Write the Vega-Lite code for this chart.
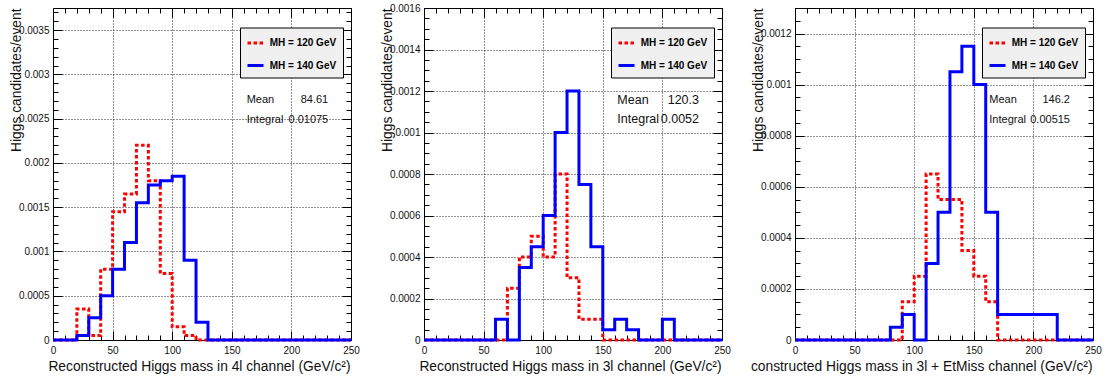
{
  "$schema": "https://vega.github.io/schema/vega-lite/v6.json",
  "autosize": {"type": "none"},
  "padding": {"left": 53, "top": 8, "right": 1053, "bottom": 371},
  "background": "#ffffff",
  "spacing": 73,
  "bounds": "flush",
  "datasets": {
    "hist": [
      {"ch":"4l","mh":"MH = 120 GeV","m":0,"v":0},{"ch":"4l","mh":"MH = 120 GeV","m":10,"v":0},{"ch":"4l","mh":"MH = 120 GeV","m":20,"v":0.00035},{"ch":"4l","mh":"MH = 120 GeV","m":30,"v":0.00005},{"ch":"4l","mh":"MH = 120 GeV","m":40,"v":0.0008},{"ch":"4l","mh":"MH = 120 GeV","m":50,"v":0.00145},{"ch":"4l","mh":"MH = 120 GeV","m":60,"v":0.00165},{"ch":"4l","mh":"MH = 120 GeV","m":70,"v":0.0022},{"ch":"4l","mh":"MH = 120 GeV","m":80,"v":0.0018},{"ch":"4l","mh":"MH = 120 GeV","m":90,"v":0.00075},{"ch":"4l","mh":"MH = 120 GeV","m":100,"v":0.00015},{"ch":"4l","mh":"MH = 120 GeV","m":110,"v":0.00005},{"ch":"4l","mh":"MH = 120 GeV","m":120,"v":0},{"ch":"4l","mh":"MH = 120 GeV","m":130,"v":0},{"ch":"4l","mh":"MH = 120 GeV","m":140,"v":0},{"ch":"4l","mh":"MH = 120 GeV","m":150,"v":0},{"ch":"4l","mh":"MH = 120 GeV","m":160,"v":0},{"ch":"4l","mh":"MH = 120 GeV","m":170,"v":0},{"ch":"4l","mh":"MH = 120 GeV","m":180,"v":0},{"ch":"4l","mh":"MH = 120 GeV","m":190,"v":0},{"ch":"4l","mh":"MH = 120 GeV","m":200,"v":0},{"ch":"4l","mh":"MH = 120 GeV","m":210,"v":0},{"ch":"4l","mh":"MH = 120 GeV","m":220,"v":0},{"ch":"4l","mh":"MH = 120 GeV","m":230,"v":0},{"ch":"4l","mh":"MH = 120 GeV","m":240,"v":0},{"ch":"4l","mh":"MH = 120 GeV","m":250,"v":0},
      {"ch":"4l","mh":"MH = 140 GeV","m":0,"v":0},{"ch":"4l","mh":"MH = 140 GeV","m":10,"v":0},{"ch":"4l","mh":"MH = 140 GeV","m":20,"v":0.00005},{"ch":"4l","mh":"MH = 140 GeV","m":30,"v":0.00025},{"ch":"4l","mh":"MH = 140 GeV","m":40,"v":0.0005},{"ch":"4l","mh":"MH = 140 GeV","m":50,"v":0.0008},{"ch":"4l","mh":"MH = 140 GeV","m":60,"v":0.0011},{"ch":"4l","mh":"MH = 140 GeV","m":70,"v":0.00155},{"ch":"4l","mh":"MH = 140 GeV","m":80,"v":0.00175},{"ch":"4l","mh":"MH = 140 GeV","m":90,"v":0.0018},{"ch":"4l","mh":"MH = 140 GeV","m":100,"v":0.00185},{"ch":"4l","mh":"MH = 140 GeV","m":110,"v":0.0009},{"ch":"4l","mh":"MH = 140 GeV","m":120,"v":0.0002},{"ch":"4l","mh":"MH = 140 GeV","m":130,"v":0},{"ch":"4l","mh":"MH = 140 GeV","m":140,"v":0},{"ch":"4l","mh":"MH = 140 GeV","m":150,"v":0},{"ch":"4l","mh":"MH = 140 GeV","m":160,"v":0},{"ch":"4l","mh":"MH = 140 GeV","m":170,"v":0},{"ch":"4l","mh":"MH = 140 GeV","m":180,"v":0},{"ch":"4l","mh":"MH = 140 GeV","m":190,"v":0},{"ch":"4l","mh":"MH = 140 GeV","m":200,"v":0},{"ch":"4l","mh":"MH = 140 GeV","m":210,"v":0},{"ch":"4l","mh":"MH = 140 GeV","m":220,"v":0},{"ch":"4l","mh":"MH = 140 GeV","m":230,"v":0},{"ch":"4l","mh":"MH = 140 GeV","m":240,"v":0},{"ch":"4l","mh":"MH = 140 GeV","m":250,"v":0},
      {"ch":"3l","mh":"MH = 120 GeV","m":0,"v":0},{"ch":"3l","mh":"MH = 120 GeV","m":10,"v":0},{"ch":"3l","mh":"MH = 120 GeV","m":20,"v":0},{"ch":"3l","mh":"MH = 120 GeV","m":30,"v":0},{"ch":"3l","mh":"MH = 120 GeV","m":40,"v":0},{"ch":"3l","mh":"MH = 120 GeV","m":50,"v":0},{"ch":"3l","mh":"MH = 120 GeV","m":60,"v":0},{"ch":"3l","mh":"MH = 120 GeV","m":70,"v":0.00025},{"ch":"3l","mh":"MH = 120 GeV","m":80,"v":0.0004},{"ch":"3l","mh":"MH = 120 GeV","m":90,"v":0.0005},{"ch":"3l","mh":"MH = 120 GeV","m":100,"v":0.0004},{"ch":"3l","mh":"MH = 120 GeV","m":110,"v":0.0008},{"ch":"3l","mh":"MH = 120 GeV","m":120,"v":0.0003},{"ch":"3l","mh":"MH = 120 GeV","m":130,"v":0.0001},{"ch":"3l","mh":"MH = 120 GeV","m":140,"v":0.0001},{"ch":"3l","mh":"MH = 120 GeV","m":150,"v":0},{"ch":"3l","mh":"MH = 120 GeV","m":160,"v":0},{"ch":"3l","mh":"MH = 120 GeV","m":170,"v":0},{"ch":"3l","mh":"MH = 120 GeV","m":180,"v":0},{"ch":"3l","mh":"MH = 120 GeV","m":190,"v":0},{"ch":"3l","mh":"MH = 120 GeV","m":200,"v":0},{"ch":"3l","mh":"MH = 120 GeV","m":210,"v":0},{"ch":"3l","mh":"MH = 120 GeV","m":220,"v":0},{"ch":"3l","mh":"MH = 120 GeV","m":230,"v":0},{"ch":"3l","mh":"MH = 120 GeV","m":240,"v":0},{"ch":"3l","mh":"MH = 120 GeV","m":250,"v":0},
      {"ch":"3l","mh":"MH = 140 GeV","m":0,"v":0},{"ch":"3l","mh":"MH = 140 GeV","m":10,"v":0},{"ch":"3l","mh":"MH = 140 GeV","m":20,"v":0},{"ch":"3l","mh":"MH = 140 GeV","m":30,"v":0},{"ch":"3l","mh":"MH = 140 GeV","m":40,"v":0},{"ch":"3l","mh":"MH = 140 GeV","m":50,"v":0},{"ch":"3l","mh":"MH = 140 GeV","m":60,"v":0.0001},{"ch":"3l","mh":"MH = 140 GeV","m":70,"v":0},{"ch":"3l","mh":"MH = 140 GeV","m":80,"v":0.00035},{"ch":"3l","mh":"MH = 140 GeV","m":90,"v":0.00045},{"ch":"3l","mh":"MH = 140 GeV","m":100,"v":0.0006},{"ch":"3l","mh":"MH = 140 GeV","m":110,"v":0.001},{"ch":"3l","mh":"MH = 140 GeV","m":120,"v":0.0012},{"ch":"3l","mh":"MH = 140 GeV","m":130,"v":0.00075},{"ch":"3l","mh":"MH = 140 GeV","m":140,"v":0.00045},{"ch":"3l","mh":"MH = 140 GeV","m":150,"v":0.00005},{"ch":"3l","mh":"MH = 140 GeV","m":160,"v":0.0001},{"ch":"3l","mh":"MH = 140 GeV","m":170,"v":0.00005},{"ch":"3l","mh":"MH = 140 GeV","m":180,"v":0},{"ch":"3l","mh":"MH = 140 GeV","m":190,"v":0},{"ch":"3l","mh":"MH = 140 GeV","m":200,"v":0.0001},{"ch":"3l","mh":"MH = 140 GeV","m":210,"v":0},{"ch":"3l","mh":"MH = 140 GeV","m":220,"v":0},{"ch":"3l","mh":"MH = 140 GeV","m":230,"v":0},{"ch":"3l","mh":"MH = 140 GeV","m":240,"v":0},{"ch":"3l","mh":"MH = 140 GeV","m":250,"v":0},
      {"ch":"3lmet","mh":"MH = 120 GeV","m":0,"v":0},{"ch":"3lmet","mh":"MH = 120 GeV","m":10,"v":0},{"ch":"3lmet","mh":"MH = 120 GeV","m":20,"v":0},{"ch":"3lmet","mh":"MH = 120 GeV","m":30,"v":0},{"ch":"3lmet","mh":"MH = 120 GeV","m":40,"v":0},{"ch":"3lmet","mh":"MH = 120 GeV","m":50,"v":0},{"ch":"3lmet","mh":"MH = 120 GeV","m":60,"v":0},{"ch":"3lmet","mh":"MH = 120 GeV","m":70,"v":0},{"ch":"3lmet","mh":"MH = 120 GeV","m":80,"v":0},{"ch":"3lmet","mh":"MH = 120 GeV","m":90,"v":0.00015},{"ch":"3lmet","mh":"MH = 120 GeV","m":100,"v":0.00025},{"ch":"3lmet","mh":"MH = 120 GeV","m":110,"v":0.00065},{"ch":"3lmet","mh":"MH = 120 GeV","m":120,"v":0.00055},{"ch":"3lmet","mh":"MH = 120 GeV","m":130,"v":0.00055},{"ch":"3lmet","mh":"MH = 120 GeV","m":140,"v":0.00035},{"ch":"3lmet","mh":"MH = 120 GeV","m":150,"v":0.00025},{"ch":"3lmet","mh":"MH = 120 GeV","m":160,"v":0.00015},{"ch":"3lmet","mh":"MH = 120 GeV","m":170,"v":0},{"ch":"3lmet","mh":"MH = 120 GeV","m":180,"v":0},{"ch":"3lmet","mh":"MH = 120 GeV","m":190,"v":0},{"ch":"3lmet","mh":"MH = 120 GeV","m":200,"v":0},{"ch":"3lmet","mh":"MH = 120 GeV","m":210,"v":0},{"ch":"3lmet","mh":"MH = 120 GeV","m":220,"v":0},{"ch":"3lmet","mh":"MH = 120 GeV","m":230,"v":0},{"ch":"3lmet","mh":"MH = 120 GeV","m":240,"v":0},{"ch":"3lmet","mh":"MH = 120 GeV","m":250,"v":0},
      {"ch":"3lmet","mh":"MH = 140 GeV","m":0,"v":0},{"ch":"3lmet","mh":"MH = 140 GeV","m":10,"v":0},{"ch":"3lmet","mh":"MH = 140 GeV","m":20,"v":0},{"ch":"3lmet","mh":"MH = 140 GeV","m":30,"v":0},{"ch":"3lmet","mh":"MH = 140 GeV","m":40,"v":0},{"ch":"3lmet","mh":"MH = 140 GeV","m":50,"v":0},{"ch":"3lmet","mh":"MH = 140 GeV","m":60,"v":0},{"ch":"3lmet","mh":"MH = 140 GeV","m":70,"v":0},{"ch":"3lmet","mh":"MH = 140 GeV","m":80,"v":0.00005},{"ch":"3lmet","mh":"MH = 140 GeV","m":90,"v":0.0001},{"ch":"3lmet","mh":"MH = 140 GeV","m":100,"v":0},{"ch":"3lmet","mh":"MH = 140 GeV","m":110,"v":0.0003},{"ch":"3lmet","mh":"MH = 140 GeV","m":120,"v":0.0005},{"ch":"3lmet","mh":"MH = 140 GeV","m":130,"v":0.00105},{"ch":"3lmet","mh":"MH = 140 GeV","m":140,"v":0.00115},{"ch":"3lmet","mh":"MH = 140 GeV","m":150,"v":0.001},{"ch":"3lmet","mh":"MH = 140 GeV","m":160,"v":0.0005},{"ch":"3lmet","mh":"MH = 140 GeV","m":170,"v":0.0001},{"ch":"3lmet","mh":"MH = 140 GeV","m":180,"v":0.0001},{"ch":"3lmet","mh":"MH = 140 GeV","m":190,"v":0.0001},{"ch":"3lmet","mh":"MH = 140 GeV","m":200,"v":0.0001},{"ch":"3lmet","mh":"MH = 140 GeV","m":210,"v":0.0001},{"ch":"3lmet","mh":"MH = 140 GeV","m":220,"v":0},{"ch":"3lmet","mh":"MH = 140 GeV","m":230,"v":0},{"ch":"3lmet","mh":"MH = 140 GeV","m":240,"v":0},{"ch":"3lmet","mh":"MH = 140 GeV","m":250,"v":0}
    ],
    "stats": [
      {"ch":"4l","labels":["Mean","Integral"],"vals":["84.61","0.01075"]},
      {"ch":"3l","labels":["Mean","Integral"],"vals":["120.3","0.0052"]},
      {"ch":"3lmet","labels":["Mean","Integral"],"vals":["146.2","0.00515"]}
    ]
  },
  "resolve": {
    "scale": {"color": "independent", "strokeDash": "independent"},
    "legend": {"color": "independent", "strokeDash": "independent"}
  },
  "hconcat": [
    {
      "width": 298, "height": 332,
      "resolve": {"axis": {"x": "independent", "y": "independent"}},
      "layer": [
        {
          "data": {"name": "hist"},
          "transform": [{"filter": "datum.ch === '4l'"}],
          "mark": {"type": "line", "interpolate": "step-after", "strokeWidth": 3, "clip": false},
          "encoding": {
            "x": {"field": "m", "type": "quantitative", "scale": {"domain": [0, 250], "nice": false, "zero": false},
              "axis": {"orient": "bottom", "values": [0,10,20,30,40,50,60,70,80,90,100,110,120,130,140,150,160,170,180,190,200,210,220,230,240,250],
                "labelExpr": "datum.value % 50 === 0 ? datum.label : ''",
                "tickSize": {"condition": {"test": "datum.value % 50 === 0", "value": -9}, "value": -5},
                "labelPadding": 14.5, "grid": true,
                "gridOpacity": {"condition": {"test": "datum.value % 50 === 0", "value": 0.85}, "value": 0},
                "title": "Reconstructed Higgs mass in 4l channel (GeV/c²)", "titleX": 297, "titleY": 30, "titleAlign": "right", "titleBaseline": "alphabetic"}},
            "y": {"field": "v", "type": "quantitative", "scale": {"domain": [0, 0.00375], "nice": false},
              "axis": {"orient": "left", "values": [0,0.0001,0.0002,0.0003,0.0004,0.0005,0.0006,0.0007,0.0008,0.0009,0.001,0.0011,0.0012,0.0013,0.0014,0.0015,0.0016,0.0017,0.0018,0.0019,0.002,0.0021,0.0022,0.0023,0.0024,0.0025,0.0026,0.0027,0.0028,0.0029,0.003,0.0031,0.0032,0.0033,0.0034,0.0035,0.0036,0.0037],
                "labelExpr": "abs(datum.value/0.0005 - round(datum.value/0.0005)) < 0.000001 ? format(datum.value, '~g') : ''",
                "tickSize": {"condition": {"test": "abs(datum.value/0.0005 - round(datum.value/0.0005)) < 0.000001", "value": -9}, "value": -5},
                "labelPadding": 13, "grid": true,
                "gridOpacity": {"condition": {"test": "abs(datum.value/0.0005 - round(datum.value/0.0005)) < 0.000001", "value": 0.85}, "value": 0},
                "title": "Higgs candidates/event", "titleX": -37, "titleY": 0, "titleAngle": 270, "titleAlign": "right", "titleBaseline": "middle"}},
            "color": {"field": "mh", "type": "nominal", "scale": {"domain": ["MH = 120 GeV", "MH = 140 GeV"], "range": ["#ff0000", "#0000ff"]}, "legend": {"title": null}},
            "strokeDash": {"field": "mh", "type": "nominal", "scale": {"domain": ["MH = 120 GeV", "MH = 140 GeV"], "range": [[3.5, 2.5], [1, 0]]}, "legend": {"title": null}}
          }
        },
        {
          "data": {"name": "stats"},
          "transform": [{"filter": "datum.ch === '4l'"}],
          "mark": {"type": "text", "align": "left", "baseline": "alphabetic", "font": "Liberation Sans", "fontSize": 11, "lineHeight": 19.5, "color": "#111"},
          "encoding": {
            "x": {"datum": 162.5, "type": "quantitative", "scale": {"domain": [0, 250], "nice": false, "zero": false},
              "axis": {"orient": "top", "values": [0,10,20,30,40,50,60,70,80,90,100,110,120,130,140,150,160,170,180,190,200,210,220,230,240,250], "labels": false, "grid": false, "title": null,
                "tickSize": {"condition": {"test": "datum.value % 50 === 0", "value": -9}, "value": -5}}},
            "y": {"datum": 0.002674, "type": "quantitative", "scale": {"domain": [0, 0.00375], "nice": false},
              "axis": {"orient": "right", "values": [0,0.0001,0.0002,0.0003,0.0004,0.0005,0.0006,0.0007,0.0008,0.0009,0.001,0.0011,0.0012,0.0013,0.0014,0.0015,0.0016,0.0017,0.0018,0.0019,0.002,0.0021,0.0022,0.0023,0.0024,0.0025,0.0026,0.0027,0.0028,0.0029,0.003,0.0031,0.0032,0.0033,0.0034,0.0035,0.0036,0.0037], "labels": false, "grid": false, "title": null,
                "tickSize": {"condition": {"test": "abs(datum.value/0.0005 - round(datum.value/0.0005)) < 0.000001", "value": -9}, "value": -5}}},
            "text": {"field": "labels", "type": "nominal"}
          }
        },
        {
          "data": {"name": "stats"},
          "transform": [{"filter": "datum.ch === '4l'"}],
          "mark": {"type": "text", "align": "right", "baseline": "alphabetic", "font": "Liberation Sans", "fontSize": 11, "lineHeight": 19.5, "color": "#111"},
          "encoding": {
            "x": {"datum": 230.9, "type": "quantitative", "scale": {"domain": [0, 250], "nice": false, "zero": false}, "axis": null},
            "y": {"datum": 0.002674, "type": "quantitative", "scale": {"domain": [0, 0.00375], "nice": false}, "axis": null},
            "text": {"field": "vals", "type": "nominal"}
          }
        }
      ]
    },
    {
      "width": 298, "height": 332,
      "resolve": {"axis": {"x": "independent", "y": "independent"}},
      "layer": [
        {
          "data": {"name": "hist"},
          "transform": [{"filter": "datum.ch === '3l'"}],
          "mark": {"type": "line", "interpolate": "step-after", "strokeWidth": 3, "clip": false},
          "encoding": {
            "x": {"field": "m", "type": "quantitative", "scale": {"domain": [0, 250], "nice": false, "zero": false},
              "axis": {"orient": "bottom", "values": [0,10,20,30,40,50,60,70,80,90,100,110,120,130,140,150,160,170,180,190,200,210,220,230,240,250],
                "labelExpr": "datum.value % 50 === 0 ? datum.label : ''",
                "tickSize": {"condition": {"test": "datum.value % 50 === 0", "value": -9}, "value": -5},
                "labelPadding": 14.5, "grid": true,
                "gridOpacity": {"condition": {"test": "datum.value % 50 === 0", "value": 0.85}, "value": 0},
                "title": "Reconstructed Higgs mass in 3l channel (GeV/c²)", "titleX": 297, "titleY": 30, "titleAlign": "right", "titleBaseline": "alphabetic"}},
            "y": {"field": "v", "type": "quantitative", "scale": {"domain": [0, 0.0016], "nice": false},
              "axis": {"orient": "left", "values": [0,0.00005,0.0001,0.00015,0.0002,0.00025,0.0003,0.00035,0.0004,0.00045,0.0005,0.00055,0.0006,0.00065,0.0007,0.00075,0.0008,0.00085,0.0009,0.00095,0.001,0.00105,0.0011,0.00115,0.0012,0.00125,0.0013,0.00135,0.0014,0.00145,0.0015,0.00155,0.0016],
                "labelExpr": "abs(datum.value/0.0002 - round(datum.value/0.0002)) < 0.000001 ? format(datum.value, '~g') : ''",
                "tickSize": {"condition": {"test": "abs(datum.value/0.0002 - round(datum.value/0.0002)) < 0.000001", "value": -9}, "value": -5},
                "labelPadding": 13, "grid": true,
                "gridOpacity": {"condition": {"test": "abs(datum.value/0.0002 - round(datum.value/0.0002)) < 0.000001", "value": 0.85}, "value": 0},
                "title": "Higgs candidates/event", "titleX": -37, "titleY": 0, "titleAngle": 270, "titleAlign": "right", "titleBaseline": "middle"}},
            "color": {"field": "mh", "type": "nominal", "scale": {"domain": ["MH = 120 GeV", "MH = 140 GeV"], "range": ["#ff0000", "#0000ff"]}, "legend": {"title": null}},
            "strokeDash": {"field": "mh", "type": "nominal", "scale": {"domain": ["MH = 120 GeV", "MH = 140 GeV"], "range": [[3.5, 2.5], [1, 0]]}, "legend": {"title": null}}
          }
        },
        {
          "data": {"name": "stats"},
          "transform": [{"filter": "datum.ch === '3l'"}],
          "mark": {"type": "text", "align": "left", "baseline": "alphabetic", "font": "Liberation Sans", "fontSize": 12.5, "lineHeight": 19, "color": "#111"},
          "encoding": {
            "x": {"datum": 162.2, "type": "quantitative", "scale": {"domain": [0, 250], "nice": false, "zero": false},
              "axis": {"orient": "top", "values": [0,10,20,30,40,50,60,70,80,90,100,110,120,130,140,150,160,170,180,190,200,210,220,230,240,250], "labels": false, "grid": false, "title": null,
                "tickSize": {"condition": {"test": "datum.value % 50 === 0", "value": -9}, "value": -5}}},
            "y": {"datum": 0.001137, "type": "quantitative", "scale": {"domain": [0, 0.0016], "nice": false},
              "axis": {"orient": "right", "values": [0,0.00005,0.0001,0.00015,0.0002,0.00025,0.0003,0.00035,0.0004,0.00045,0.0005,0.00055,0.0006,0.00065,0.0007,0.00075,0.0008,0.00085,0.0009,0.00095,0.001,0.00105,0.0011,0.00115,0.0012,0.00125,0.0013,0.00135,0.0014,0.00145,0.0015,0.00155,0.0016], "labels": false, "grid": false, "title": null,
                "tickSize": {"condition": {"test": "abs(datum.value/0.0002 - round(datum.value/0.0002)) < 0.000001", "value": -9}, "value": -5}}},
            "text": {"field": "labels", "type": "nominal"}
          }
        },
        {
          "data": {"name": "stats"},
          "transform": [{"filter": "datum.ch === '3l'"}],
          "mark": {"type": "text", "align": "right", "baseline": "alphabetic", "font": "Liberation Sans", "fontSize": 12.5, "lineHeight": 19, "color": "#111"},
          "encoding": {
            "x": {"datum": 230.7, "type": "quantitative", "scale": {"domain": [0, 250], "nice": false, "zero": false}, "axis": null},
            "y": {"datum": 0.001137, "type": "quantitative", "scale": {"domain": [0, 0.0016], "nice": false}, "axis": null},
            "text": {"field": "vals", "type": "nominal"}
          }
        }
      ]
    },
    {
      "width": 298, "height": 332,
      "resolve": {"axis": {"x": "independent", "y": "independent"}},
      "layer": [
        {
          "data": {"name": "hist"},
          "transform": [{"filter": "datum.ch === '3lmet'"}],
          "mark": {"type": "line", "interpolate": "step-after", "strokeWidth": 3, "clip": false},
          "encoding": {
            "x": {"field": "m", "type": "quantitative", "scale": {"domain": [0, 250], "nice": false, "zero": false},
              "axis": {"orient": "bottom", "values": [0,10,20,30,40,50,60,70,80,90,100,110,120,130,140,150,160,170,180,190,200,210,220,230,240,250],
                "labelExpr": "datum.value % 50 === 0 ? datum.label : ''",
                "tickSize": {"condition": {"test": "datum.value % 50 === 0", "value": -9}, "value": -5},
                "labelPadding": 14.5, "grid": true,
                "gridOpacity": {"condition": {"test": "datum.value % 50 === 0", "value": 0.85}, "value": 0},
                "title": "constructed Higgs mass in 3l + EtMiss channel (GeV/c²)", "titleX": 297, "titleY": 30, "titleAlign": "right", "titleBaseline": "alphabetic"}},
            "y": {"field": "v", "type": "quantitative", "scale": {"domain": [0, 0.0013], "nice": false},
              "axis": {"orient": "left", "values": [0,0.00005,0.0001,0.00015,0.0002,0.00025,0.0003,0.00035,0.0004,0.00045,0.0005,0.00055,0.0006,0.00065,0.0007,0.00075,0.0008,0.00085,0.0009,0.00095,0.001,0.00105,0.0011,0.00115,0.0012,0.00125,0.0013],
                "labelExpr": "abs(datum.value/0.0002 - round(datum.value/0.0002)) < 0.000001 ? format(datum.value, '~g') : ''",
                "tickSize": {"condition": {"test": "abs(datum.value/0.0002 - round(datum.value/0.0002)) < 0.000001", "value": -9}, "value": -5},
                "labelPadding": 13, "grid": true,
                "gridOpacity": {"condition": {"test": "abs(datum.value/0.0002 - round(datum.value/0.0002)) < 0.000001", "value": 0.85}, "value": 0},
                "title": "Higgs candidates/event", "titleX": -37, "titleY": 0, "titleAngle": 270, "titleAlign": "right", "titleBaseline": "middle"}},
            "color": {"field": "mh", "type": "nominal", "scale": {"domain": ["MH = 120 GeV", "MH = 140 GeV"], "range": ["#ff0000", "#0000ff"]}, "legend": {"title": null}},
            "strokeDash": {"field": "mh", "type": "nominal", "scale": {"domain": ["MH = 120 GeV", "MH = 140 GeV"], "range": [[3.5, 2.5], [1, 0]]}, "legend": {"title": null}}
          }
        },
        {
          "data": {"name": "stats"},
          "transform": [{"filter": "datum.ch === '3lmet'"}],
          "mark": {"type": "text", "align": "left", "baseline": "alphabetic", "font": "Liberation Sans", "fontSize": 11, "lineHeight": 19.5, "color": "#111"},
          "encoding": {
            "x": {"datum": 163, "type": "quantitative", "scale": {"domain": [0, 250], "nice": false, "zero": false},
              "axis": {"orient": "top", "values": [0,10,20,30,40,50,60,70,80,90,100,110,120,130,140,150,160,170,180,190,200,210,220,230,240,250], "labels": false, "grid": false, "title": null,
                "tickSize": {"condition": {"test": "datum.value % 50 === 0", "value": -9}, "value": -5}}},
            "y": {"datum": 0.000927, "type": "quantitative", "scale": {"domain": [0, 0.0013], "nice": false},
              "axis": {"orient": "right", "values": [0,0.00005,0.0001,0.00015,0.0002,0.00025,0.0003,0.00035,0.0004,0.00045,0.0005,0.00055,0.0006,0.00065,0.0007,0.00075,0.0008,0.00085,0.0009,0.00095,0.001,0.00105,0.0011,0.00115,0.0012,0.00125,0.0013], "labels": false, "grid": false, "title": null,
                "tickSize": {"condition": {"test": "abs(datum.value/0.0002 - round(datum.value/0.0002)) < 0.000001", "value": -9}, "value": -5}}},
            "text": {"field": "labels", "type": "nominal"}
          }
        },
        {
          "data": {"name": "stats"},
          "transform": [{"filter": "datum.ch === '3lmet'"}],
          "mark": {"type": "text", "align": "right", "baseline": "alphabetic", "font": "Liberation Sans", "fontSize": 11, "lineHeight": 19.5, "color": "#111"},
          "encoding": {
            "x": {"datum": 230.7, "type": "quantitative", "scale": {"domain": [0, 250], "nice": false, "zero": false}, "axis": null},
            "y": {"datum": 0.000927, "type": "quantitative", "scale": {"domain": [0, 0.0013], "nice": false}, "axis": null},
            "text": {"field": "vals", "type": "nominal"}
          }
        }
      ]
    }
  ],
  "config": {
    "view": {"stroke": "#000000", "strokeWidth": 1, "fill": "#ffffff"},
    "axis": {
      "domain": false,
      "labelFont": "Liberation Sans", "labelFontSize": 10, "labelColor": "#111111",
      "labelFlush": false, "labelOverlap": false, "labelBound": false,
      "titleFont": "Liberation Sans", "titleFontSize": 13.8, "titleFontWeight": "normal", "titleColor": "#111111",
      "tickColor": "#000000", "tickWidth": 1,
      "gridColor": "#000000", "gridDash": [1, 2], "gridWidth": 1
    },
    "legend": {
      "orient": "none", "legendX": 187, "legendY": 19.5,
      "fillColor": "#f0f0f0", "strokeColor": "#000000", "padding": 6, "rowPadding": 6.5,
      "symbolType": "stroke", "symbolSize": 256, "symbolStrokeWidth": 3,
      "labelFont": "Liberation Sans", "labelFontSize": 10, "labelFontWeight": "bold", "labelColor": "#000000",
      "labelOffset": 4.7, "labelLimit": 200
    }
  }
}
